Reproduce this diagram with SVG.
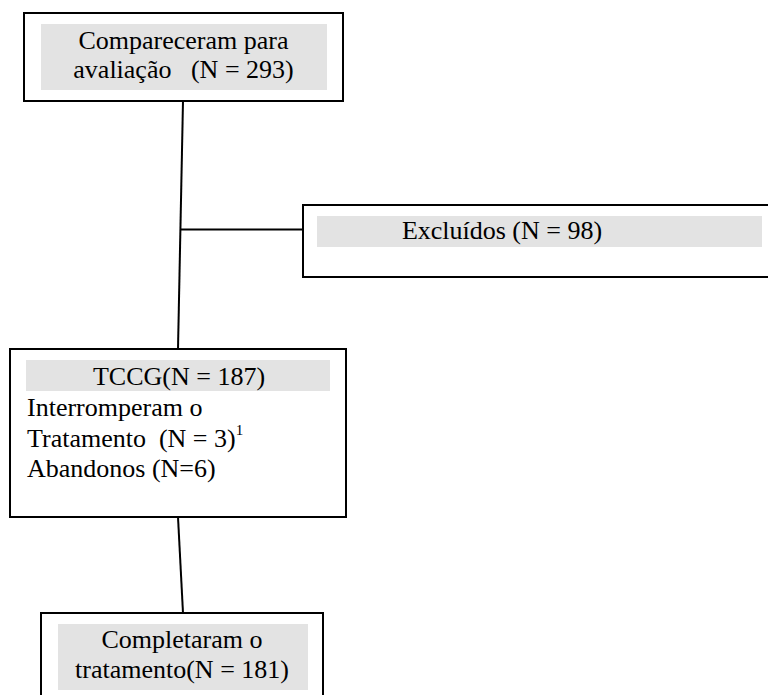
<svg xmlns="http://www.w3.org/2000/svg" width="768" height="695" viewBox="0 0 768 695">
<style>
.box{fill:#fff;stroke:#000;stroke-width:2}
.hl{fill:#e3e3e3;stroke:none}
.t{font-family:"Liberation Serif","Times New Roman",serif;font-size:26px;fill:#000}
.c{text-anchor:middle}
.ln{stroke:#000;stroke-width:2;fill:none}
</style>
<rect width="768" height="695" fill="#fff"/>
<g id="connectors">
<line class="ln" x1="183" y1="101" x2="178" y2="349"/>
<line class="ln" x1="180" y1="229.5" x2="303" y2="229.5"/>
<line class="ln" x1="178" y1="517" x2="183" y2="613"/>
</g>
<g id="n-compareceram">
<rect class="box" x="24" y="13" width="319" height="88"/>
<rect class="hl" x="41" y="24" width="286" height="66"/>
<text class="t c" x="183.5" y="49">Compareceram para</text>
<text class="t c" x="183.5" y="78" xml:space="preserve">avaliação   (N = 293)</text>
</g>
<g id="n-excluidos">
<rect class="box" x="303" y="205" width="480" height="72"/>
<rect class="hl" x="317" y="216" width="445" height="31"/>
<text class="t c" x="502" y="239">Excluídos (N = 98)</text>
</g>
<g id="n-tccg">
<rect class="box" x="10" y="349" width="336" height="168"/>
<rect class="hl" x="26" y="360" width="304" height="31"/>
<text class="t c" x="179" y="385">TCCG(N = 187)</text>
<text class="t" x="27" y="416">Interromperam o</text>
<text class="t" x="27" y="447" xml:space="preserve">Tratamento  (N = 3)<tspan font-size="15" dy="-12">1</tspan></text>
<text class="t" x="27" y="477">Abandonos (N=6)</text>
</g>
<g id="n-completaram">
<rect class="box" x="41" y="613" width="282" height="100"/>
<rect class="hl" x="58" y="624" width="250" height="66"/>
<text class="t c" x="182" y="648">Completaram o</text>
<text class="t c" x="182" y="678">tratamento(N = 181)</text>
</g>
</svg>
